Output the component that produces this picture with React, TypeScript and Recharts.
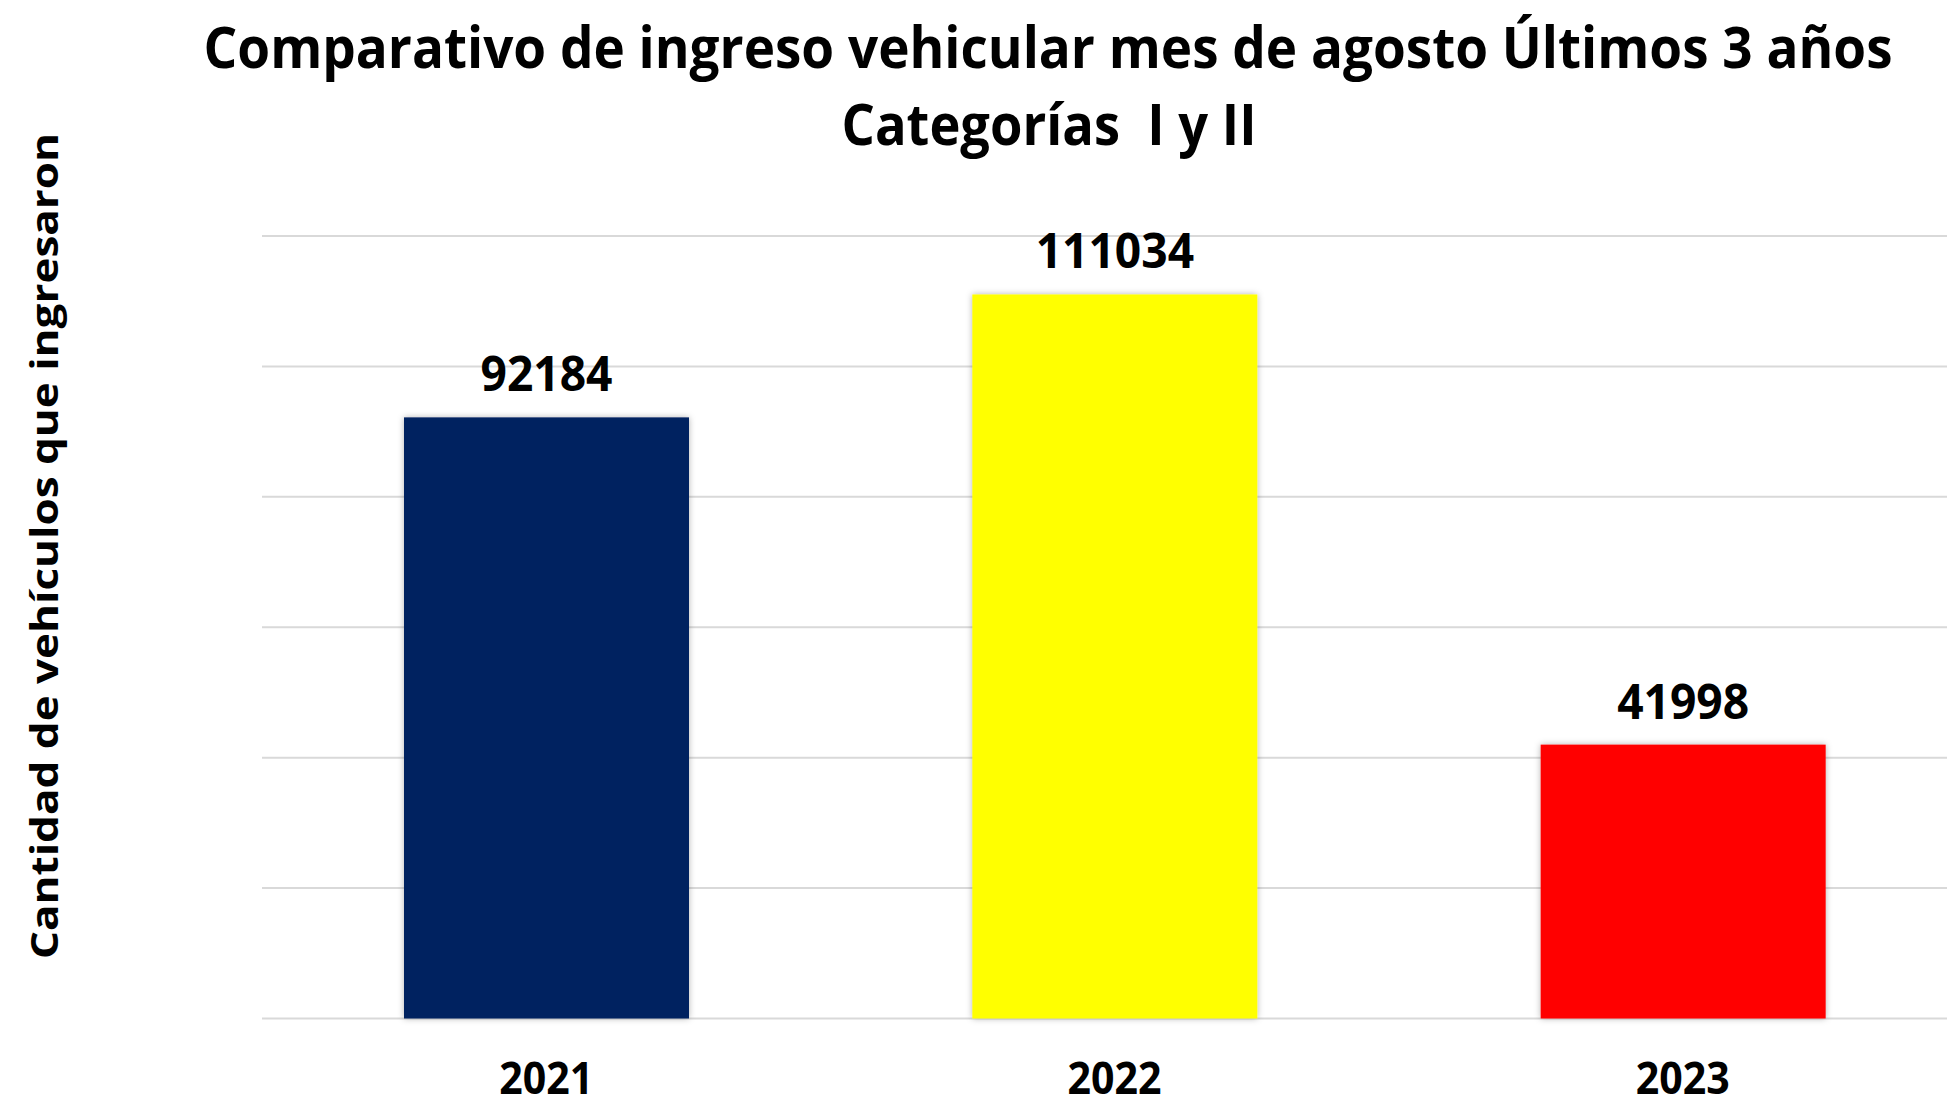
import { BarChart, Bar, XAxis, YAxis, CartesianGrid, Cell, LabelList } from 'recharts';

const years = ['2021', '2022', '2023'];
const vehicles = [92184, 111034, 41998];
const barColors = ['#002060', '#FFFF00', '#FF0000'];
const yTicks = [0, 20000, 40000, 60000, 80000, 100000, 120000];

const titleLine1 = 'Comparativo de ingreso vehicular mes de agosto Últimos 3 años';
const titleLine2 = 'Categorías  I y II';
const yLabel = 'Cantidad de vehículos que ingresaron';

const data = years.map((year, i) => ({ year, value: vehicles[i], color: barColors[i] }));

const FONT = '"Open Sans", "Noto Sans", sans-serif';

function YearTick(props: any) {
    const { x, y, payload } = props;
    return (
        <text
            x={x}
            y={y + 75}
            textAnchor="middle"
            fontFamily={FONT}
            fontWeight={700}
            fontSize={45}
            fill="#000"
            textLength={94}
            lengthAdjust="spacingAndGlyphs"
        >
            {payload.value}
        </text>
    );
}

function ValueLabel(props: any) {
    const { x, y, width, value } = props;
    const txt = String(value);
    return (
        <text
            x={x + width / 2}
            y={y - 26}
            textAnchor="middle"
            fontFamily={FONT}
            fontWeight={700}
            fontSize={48}
            fill="#000"
            textLength={txt.length * 26.4}
            lengthAdjust="spacingAndGlyphs"
        >
            {txt}
        </text>
    );
}

function ShadowBar(props: any) {
    const { x, y, width, height, fill } = props;
    return <rect x={x} y={y} width={width} height={height} fill={fill} filter="url(#barShadow)" />;
}

const EmptyTick = () => <g />;

export default function App() {
    return (
        <div
            style={{
                position: 'absolute',
                left: 0,
                top: 0,
                width: 1947,
                height: 1100,
                overflow: 'hidden',
                background: '#fff',
            }}
        >
            <BarChart
                width={1967}
                height={1100}
                data={data}
                margin={{ top: 236, right: 0, bottom: 0, left: 262 }}
            >
                <CartesianGrid vertical={false} stroke="#d9d9d9" strokeWidth={2} />
                <XAxis
                    dataKey="year"
                    height={81.5}
                    axisLine={false}
                    tickLine={false}
                    tickSize={0}
                    tickMargin={0}
                    tick={<YearTick />}
                    interval={0}
                />
                <YAxis
                    width={0}
                    domain={[0, 120000]}
                    ticks={yTicks}
                    interval={0}
                    axisLine={false}
                    tickLine={false}
                    tick={<EmptyTick />}
                />
                <Bar dataKey="value" barSize={285} isAnimationActive={false} shape={<ShadowBar />}>
                    {data.map((d) => (
                        <Cell key={d.year} fill={d.color} />
                    ))}
                    <LabelList dataKey="value" content={<ValueLabel />} />
                </Bar>
            </BarChart>
            <svg
                width={1947}
                height={1100}
                style={{ position: 'absolute', left: 0, top: 0, pointerEvents: 'none' }}
            >
                <defs>
                    <filter id="barShadow" x="-10%" y="-10%" width="120%" height="120%">
                        <feDropShadow dx="0" dy="0" stdDeviation="3" floodColor="#000" floodOpacity="0.3" />
                    </filter>
                </defs>
                <text
                    x={1048}
                    y={68}
                    textAnchor="middle"
                    fontFamily={FONT}
                    fontWeight={700}
                    fontSize={57}
                    fill="#000"
                    textLength={1689}
                    lengthAdjust="spacingAndGlyphs"
                >
                    {titleLine1}
                </text>
                <text
                    x={1049}
                    y={145}
                    textAnchor="middle"
                    fontFamily={FONT}
                    fontWeight={700}
                    fontSize={57}
                    fill="#000"
                    textLength={415}
                    lengthAdjust="spacingAndGlyphs"
                    style={{ whiteSpace: 'pre' }}
                >
                    {titleLine2}
                </text>
                <text
                    transform="translate(58,546) rotate(-90)"
                    textAnchor="middle"
                    fontFamily={FONT}
                    fontWeight={700}
                    fontSize={38}
                    fill="#000"
                    textLength={826}
                    lengthAdjust="spacingAndGlyphs"
                >
                    {yLabel}
                </text>
            </svg>
        </div>
    );
}
